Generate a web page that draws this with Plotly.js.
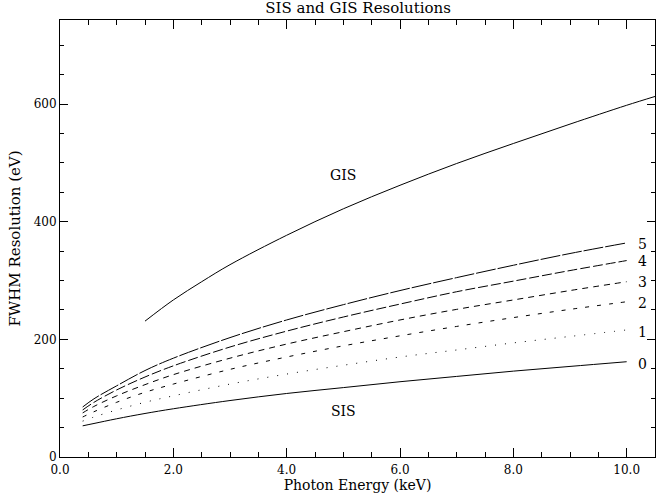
<!DOCTYPE html>
<html>
<head>
<meta charset="utf-8">
<script src="https://cdn.plot.ly/plotly-3.0.1.min.js"></script>
<style>html,body{margin:0;padding:0;background:#fff;}#chart{width:657px;height:493px;}</style>
</head>
<body>
<div id="chart"></div>
<script>
// Data
var energySIS = [0.4, 0.6, 1.0, 1.5, 2.0, 3.0, 4.0, 5.0, 6.0, 7.0, 8.0, 9.0, 10.0];
var sis0 = [53, 57, 65, 74, 82, 96, 108, 118, 128, 137, 146, 154, 162];
var sis1 = [61, 68, 80, 93, 104, 124, 141, 156, 170, 182, 194, 205, 216];
var sis2 = [68, 77, 93, 110, 124, 149, 170, 189, 206, 222, 237, 251, 264];
var sis3 = [75, 86, 104, 123, 140, 168, 192, 213, 233, 251, 267, 283, 298];
var sis4 = [80, 93, 114, 136, 155, 187, 214, 238, 260, 281, 299, 317, 334];
var sis5 = [85, 99, 121, 147, 168, 203, 233, 259, 283, 305, 326, 346, 364];
var energyGIS = [1.5, 2.0, 2.5, 3.0, 4.0, 5.0, 6.0, 7.0, 8.0, 9.0, 10.0, 10.5];
var gis = [231, 267, 298, 327, 377, 422, 462, 499, 533, 566, 598, 613];

var curveLabels = ["0", "1", "2", "3", "4", "5"];
var curveLabelY = [158, 213, 261, 298, 333, 363];
var sisSeries = [sis0, sis1, sis2, sis3, sis4, sis5];
var dashes = ["solid", "1px,9px", "4px,8px", "6px,5px", "10px,3px", "20px,2px"];

var FONT = "DejaVu Serif, Liberation Serif, serif";

var traces = [];
sisSeries.forEach(function (ys, i) {
  traces.push({
    x: energySIS, y: ys, type: "scatter", mode: "lines",
    name: "SIS " + curveLabels[i],
    line: {color: "#000", width: 1, dash: dashes[i], shape: "spline"},
    hoverinfo: "x+y"
  });
});
traces.push({
  x: energyGIS, y: gis, type: "scatter", mode: "lines", name: "GIS",
  line: {color: "#000", width: 1, shape: "spline"}
});

var annotations = [
  {x: 5.0, y: 479, text: "GIS"},
  {x: 5.0, y: 78, text: "SIS"}
];
curveLabels.forEach(function (t, i) {
  annotations.push({x: 10.28, y: curveLabelY[i], text: t});
});
annotations = annotations.map(function (a) {
  return Object.assign({xref: "x", yref: "y", showarrow: false,
    xanchor: "center", yanchor: "middle",
    font: {family: FONT, size: 14, color: "#000"}}, a);
});

var axisCommon = {
  showgrid: false, zeroline: false, showline: true, linecolor: "#000", linewidth: 1,
  mirror: "ticks", ticks: "inside", tickcolor: "#000", tickwidth: 1,
  tickfont: {family: FONT, size: 12, color: "#000"},
  automargin: false
};

var layout = {
  width: 657, height: 493,
  paper_bgcolor: "#fff", plot_bgcolor: "#fff",
  margin: {l: 60, r: 2, t: 20, b: 36, pad: 0},
  showlegend: false,
  title: {text: "SIS and GIS Resolutions", x: 0.545, xref: "container", y: 0.985, yref: "container",
    yanchor: "middle", xanchor: "center",
    font: {family: FONT, size: 15, color: "#000"}},
  xaxis: Object.assign({}, axisCommon, {
    range: [0, 10.5], tick0: 0, dtick: 2, tickformat: ".1f", ticklen: 9,
    ticklabelstandoff: 2,
    minor: {dtick: 0.5, ticklen: 5, ticks: "inside", tickcolor: "#000", showgrid: false},
    title: {text: "Photon Energy (keV)", font: {family: FONT, size: 14, color: "#000"}}
  }),
  yaxis: Object.assign({}, axisCommon, {
    range: [0, 743], tick0: 0, dtick: 200, ticklen: 8,
    minor: {dtick: 50, ticklen: 4, ticks: "inside", tickcolor: "#000", showgrid: false},
    title: {text: "FWHM Resolution (eV)", font: {family: FONT, size: 15, color: "#000"}}
  }),
  annotations: annotations
};

Plotly.newPlot("chart", traces, layout, {staticPlot: true, displayModeBar: false});
</script>
</body>
</html>
